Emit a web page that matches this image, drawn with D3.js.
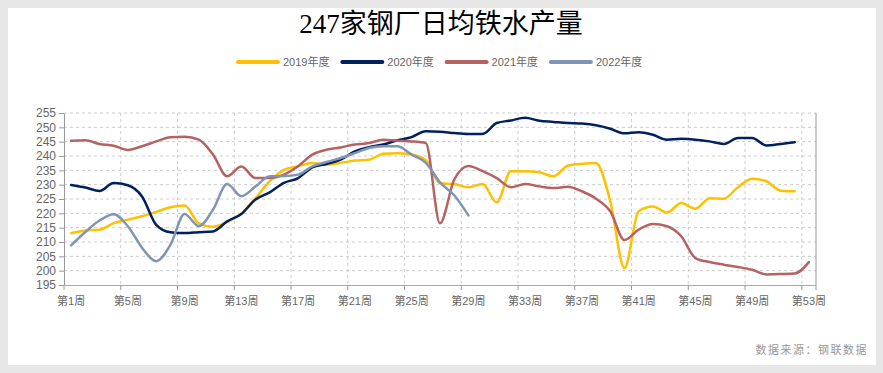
<!DOCTYPE html>
<html>
<head>
<meta charset="utf-8">
<script src="https://cdn.jsdelivr.net/npm/d3@7/dist/d3.min.js"></script>
<style>
  html, body { margin: 0; padding: 0; background: #e7e7e7; }
  svg { display: block; }
  .narrow { font-family: "Liberation Sans Narrow", "Liberation Sans", "Noto Sans CJK SC", sans-serif; }
</style>
</head>
<body>
<svg id="chart" width="883" height="373"></svg>
<script>
// weeks 第1周 .. 第53周
var weeks = d3.range(1, 54);
var weekLabels = weeks.map(w => "第" + w + "周");
var seriesNames = ["2019年度", "2020年度", "2021年度", "2022年度"];
var seriesColors = ["#FFC000", "#002060", "#B66262", "#7F95B8"];

var v2019 = [213.1, 214.0, 214.3, 216.6, 217.8, 219.0, 220.5, 222.1, 222.7, 216.5,
             215.3, 217.0, 219.9, 225.3, 231.2, 235.2, 236.4, 237.6, 237.0, 237.6,
             238.4, 238.7, 240.8, 241.0, 240.5, 238.5, 230.5, 230.2, 229.1, 230.2,
             223.8, 234.7, 234.7, 234.3, 232.9, 236.6, 237.3, 237.6, 224.2, 200.9,
             220.7, 222.4, 220.3, 223.6, 221.6, 225.3, 225.1, 229.1, 232.1, 231.2,
             227.9, 227.7];
var v2020 = [229.9, 229.0, 227.8, 230.6, 229.8, 225.9, 216.0, 213.4, 213.1, 213.4,
             213.7, 217.2, 219.8, 224.8, 227.3, 230.6, 232.3, 236.0, 237.2, 238.7,
             241.6, 243.1, 244.0, 245.5, 246.6, 248.6, 248.5, 248.0, 247.7, 247.7,
             251.5, 252.4, 253.3, 252.3, 251.9, 251.5, 251.3, 250.7, 249.5, 247.9,
             248.3, 247.4, 245.7, 246.0, 245.7, 245.1, 244.2, 246.3, 246.3, 243.7,
             244.2, 244.8];
var v2021 = [245.3, 245.5, 244.2, 243.6, 242.1, 243.4, 245.1, 246.5, 246.7, 245.7,
             240.5, 232.9, 236.3, 232.3, 232.3, 233.5, 236.4, 240.5, 242.2, 243.0,
             244.0, 244.5, 245.7, 245.3, 245.1, 244.5, 216.5, 231.7, 236.5, 234.7,
             232.3, 229.1, 230.2, 229.4, 228.8, 229.3, 227.7, 225.1, 220.7, 210.7,
             214.3, 216.3, 215.5, 212.0, 204.4, 203.0, 202.1, 201.3, 200.3, 198.7,
             198.8, 199.0, 203.0];
var v2022 = [208.8, 213.5, 217.5, 219.7, 215.5, 208.0, 203.3, 209.0, 219.8, 215.5,
             221.3, 230.2, 226.0, 229.4, 232.9, 233.0, 233.5, 236.4, 237.9, 239.3,
             241.0, 242.8, 243.4, 243.4, 240.5, 237.6, 230.8, 226.3, 219.3];
var yTicks = d3.range(195, 256, 5);

var svg = d3.select("#chart");
var plotL = 64, plotR = 816, plotT = 113, plotB = 285;

// white card
svg.append("rect")
   .attr("x", 8).attr("y", 8)
   .attr("width", 868).attr("height", 357)
   .attr("fill", "#fff");

svg.append("text")
   .attr("x", 441).attr("y", 33)
   .attr("text-anchor", "middle")
   .style("font-family", "'Liberation Serif', 'Noto Sans CJK SC', serif")
   .style("font-size", "27px")
   .attr("fill", "#000")
   .text("247家钢厂日均铁水产量");

var x = d3.scaleBand().domain(weekLabels).range([plotL, plotR]);
var bw = x.bandwidth();
var y = d3.scaleLinear().domain([195, 255]).range([plotB, plotT]);

// grid
var grid = svg.append("g");
grid.selectAll(".hg")
    .data(yTicks.slice(1))
    .enter().append("line")
    .attr("x1", plotL).attr("x2", plotR)
    .attr("y1", d => y(d)).attr("y2", d => y(d))
    .attr("stroke", "#ccc")
    .attr("stroke-dasharray", "3,3");
var tickWeeks = weekLabels.filter((d, i) => i % 4 == 0);
grid.selectAll(".vg")
    .data(tickWeeks.slice(1))
    .enter().append("line")
    .attr("x1", d => x(d)).attr("x2", d => x(d))
    .attr("y1", plotT).attr("y2", plotB)
    .attr("stroke", "#ccc")
    .attr("stroke-dasharray", "3,3");
grid.append("line")
    .attr("x1", plotR).attr("x2", plotR)
    .attr("y1", plotT).attr("y2", plotB + 5)
    .attr("stroke", "#999");

// axes
var xAxis = svg.append("g")
   .attr("transform", "translate(0," + plotB + ")")
   .call(d3.axisBottom(x).tickValues(tickWeeks).tickSize(5).tickPadding(7).tickSizeOuter(0));
xAxis.selectAll(".tick line").attr("x1", -bw / 2).attr("x2", -bw / 2);
xAxis.select(".domain").attr("stroke", "#aaa");
xAxis.selectAll(".tick line").attr("stroke", "#999");
xAxis.selectAll("text")
     .attr("class", "narrow")
     .style("font-size", "11px")
     .attr("fill", "#666");

var yAxis = svg.append("g")
   .attr("transform", "translate(" + plotL + ",0)")
   .call(d3.axisLeft(y).tickValues(yTicks).tickSize(5).tickPadding(3).tickSizeOuter(0));
yAxis.select(".domain").attr("stroke", "#999");
yAxis.selectAll(".tick line").attr("stroke", "#999");
yAxis.selectAll("text")
     .attr("class", "narrow")
     .style("font-size", "12px")
     .attr("fill", "#666");

// lines
var line = d3.line()
    .x((d, i) => x(weekLabels[i]) + bw / 2)
    .y(d => y(d))
    .curve(d3.curveMonotoneX);

var allSeries = [v2019, v2020, v2021, v2022];
svg.append("g").selectAll("path")
   .data(allSeries)
   .enter().append("path")
   .attr("d", line)
   .attr("fill", "none")
   .attr("stroke", (d, i) => seriesColors[i])
   .attr("stroke-width", 2.5)
   .attr("stroke-linejoin", "round")
   .attr("stroke-linecap", "round");

// legend
var legend = svg.append("g").selectAll("g")
    .data(seriesNames)
    .enter().append("g")
    .attr("transform", (d, i) => "translate(" + (238 + i * 104.3) + ",62)");
legend.append("line")
    .attr("x1", 0).attr("x2", 40)
    .attr("stroke", (d, i) => seriesColors[i])
    .attr("stroke-width", 4)
    .attr("stroke-linecap", "round");
legend.append("text")
    .attr("class", "narrow")
    .attr("x", 45).attr("y", 4)
    .style("font-size", "11px")
    .attr("fill", "#666")
    .text(d => d);

svg.append("text")
   .attr("x", 868).attr("y", 354)
   .attr("text-anchor", "end")
   .style("font-family", "'Noto Sans CJK SC', sans-serif")
   .style("font-size", "11px")
   .style("letter-spacing", "1.5px")
   .attr("fill", "#999")
   .text("数据来源：钢联数据");
</script>
</body>
</html>
